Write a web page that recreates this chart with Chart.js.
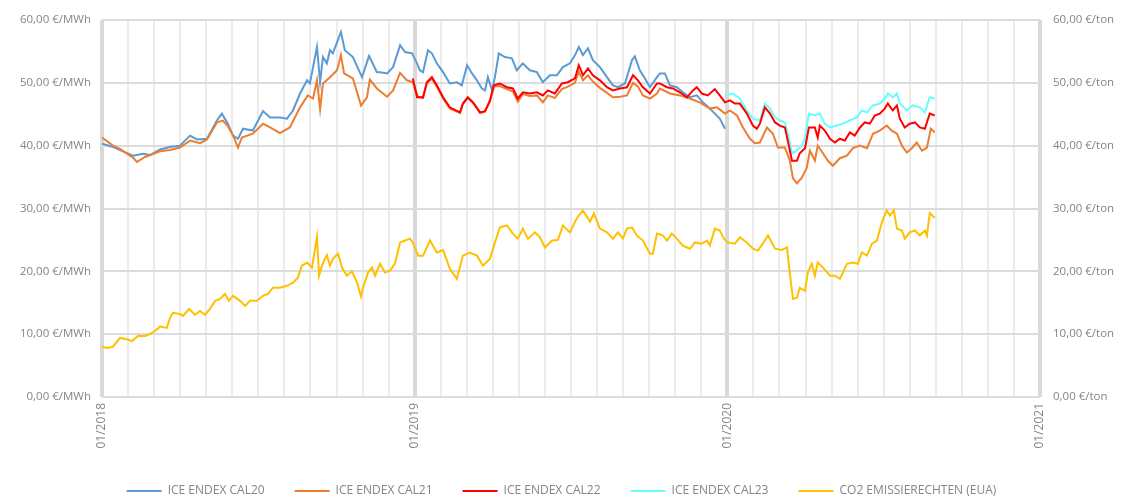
<!DOCTYPE html>
<html lang="de">
<head>
    <meta charset="UTF-8">
    <title>Energiepreise ICE ENDEX / CO2</title>
    <script src="https://cdn.jsdelivr.net/npm/chart.js"></script>
    <style>
        html, body { margin: 0; padding: 0; background: #fff; }
        #wrap { width: 1123px; height: 501px; }
    </style>
</head>
<body>
<div id="wrap"><canvas id="priceChart"></canvas></div>
<script>
// x = months since 01/2018 (decimal)
const cal20Months = [0.0,0.42,0.69,1.19,1.57,1.84,2.23,2.61,2.99,3.38,3.65,4.03,4.41,4.60,4.83,5.03,5.22,5.41,5.79,6.18,6.45,6.83,7.10,7.33,7.60,7.87,7.98,8.25,8.37,8.48,8.63,8.75,8.86,9.17,9.32,9.63,9.98,10.25,10.55,10.67,10.94,11.17,11.44,11.63,11.90,12.09,12.20,12.32,12.51,12.66,12.85,13.09,13.35,13.62,13.81,14.01,14.20,14.39,14.58,14.70,14.81,14.97,15.08,15.23,15.46,15.73,15.92,16.15,16.42,16.69,16.92,17.19,17.46,17.69,17.96,18.15,18.30,18.46,18.65,18.84,19.11,19.38,19.61,19.80,20.07,20.34,20.45,20.64,20.84,21.03,21.30,21.41,21.60,21.80,22.06,22.29,22.56,22.83,23.06,23.33,23.52,23.71,23.91];
const cal20Values = [40.3,39.8,39.3,38.4,38.7,38.5,39.4,39.8,40.0,41.6,41.0,41.1,44.0,45.1,43.5,41.6,41.1,42.7,42.4,45.5,44.5,44.5,44.3,45.6,48.3,50.4,49.9,55.7,50.1,54.1,53.1,55.2,54.7,58.1,55.2,54.1,50.9,54.3,51.7,51.7,51.5,52.5,56.0,54.9,54.7,53.1,52.0,51.7,55.2,54.7,53.1,51.7,49.9,50.1,49.6,52.8,51.5,50.4,49.1,48.8,50.9,48.8,50.9,54.7,54.1,53.9,52.0,53.1,52.0,51.7,50.1,51.2,51.2,52.5,53.1,54.4,55.7,54.4,55.5,53.6,52.5,50.9,49.6,49.3,49.9,53.6,54.2,52.0,50.7,49.3,50.9,51.5,51.5,49.6,49.3,48.5,47.7,48.0,46.9,45.9,45.1,44.3,42.7];

const cal21Months = [0.0,0.42,0.69,1.19,1.34,1.65,2.23,2.61,2.99,3.38,3.76,4.03,4.41,4.64,4.83,5.03,5.22,5.37,5.79,6.18,6.45,6.83,7.21,7.60,7.90,8.10,8.25,8.37,8.48,8.75,9.02,9.17,9.29,9.63,9.94,10.17,10.28,10.55,10.94,11.17,11.44,11.70,11.93,12.13,12.32,12.47,12.66,12.85,13.09,13.35,13.74,13.85,14.04,14.24,14.51,14.70,14.89,15.04,15.27,15.54,15.77,15.96,16.15,16.42,16.69,16.92,17.11,17.38,17.65,17.88,18.15,18.30,18.46,18.65,18.84,19.11,19.38,19.61,19.88,20.15,20.38,20.57,20.76,21.03,21.30,21.41,21.80,22.18,22.56,22.94,23.33,23.60,23.91,24.10,24.37,24.60,24.87,25.06,25.25,25.52,25.75,25.94,26.21,26.40,26.52,26.67,26.86,27.05,27.17,27.36,27.47,27.67,27.86,28.05,28.32,28.59,28.82,29.09,29.36,29.59,29.85,30.12,30.31,30.51,30.70,30.89,31.08,31.27,31.47,31.66,31.81,31.96];
const cal21Values = [41.3,40.0,39.5,38.1,37.4,38.2,39.1,39.3,39.7,40.8,40.4,41.0,43.7,44.0,43.1,41.6,39.7,41.3,41.9,43.5,42.9,42.0,42.9,46.1,48.0,47.5,50.4,45.8,49.9,50.9,52.0,54.4,51.5,50.7,46.4,47.7,50.5,49.1,47.8,48.8,51.6,50.4,50.1,47.8,47.6,50.0,50.6,49.4,47.5,45.9,45.2,46.6,47.6,46.8,45.2,45.4,47.0,49.4,49.5,49.0,48.6,47.0,48.2,47.9,48.0,46.9,48.0,47.6,49.0,49.4,50.0,51.8,50.4,51.2,50.2,49.2,48.4,47.7,47.8,48.0,50.0,49.4,48.0,47.5,48.3,49.1,48.3,48.0,47.5,46.9,45.9,46.1,45.1,45.6,44.8,42.9,41.1,40.4,40.5,42.9,41.9,39.7,39.7,37.6,34.8,34.0,34.9,36.5,39.2,37.6,40.0,38.8,37.6,36.8,38.0,38.4,39.6,40.0,39.6,41.9,42.4,43.2,42.4,41.9,40.0,38.9,39.6,40.5,39.2,39.7,42.7,42.1];

const cal22Months = [11.93,12.09,12.32,12.47,12.66,12.85,13.09,13.35,13.74,13.85,14.04,14.24,14.51,14.70,14.89,15.04,15.27,15.54,15.77,15.96,16.15,16.42,16.69,16.92,17.11,17.38,17.65,17.88,18.15,18.30,18.46,18.65,18.84,19.11,19.38,19.61,19.88,20.15,20.38,20.57,20.76,21.03,21.30,21.41,21.68,21.91,22.18,22.45,22.68,22.83,23.02,23.25,23.52,23.71,23.91,24.10,24.29,24.48,24.75,24.98,25.13,25.25,25.44,25.64,25.83,26.02,26.21,26.32,26.48,26.67,26.78,26.98,27.13,27.36,27.47,27.55,27.74,27.94,28.13,28.32,28.51,28.70,28.89,29.09,29.28,29.47,29.66,29.85,30.04,30.16,30.35,30.51,30.62,30.81,31.00,31.20,31.39,31.58,31.77,31.96];
const cal22Values = [50.7,47.7,47.7,50.1,50.9,49.6,47.7,46.1,45.3,46.7,47.7,46.9,45.3,45.5,47.2,49.6,49.9,49.3,49.1,47.5,48.5,48.3,48.5,48.0,48.8,48.3,49.9,50.1,50.7,52.8,51.2,52.3,51.2,50.4,49.3,48.8,49.1,49.3,51.2,50.4,49.3,48.3,49.9,49.9,49.3,49.1,48.5,47.7,48.8,49.3,48.3,48.0,49.0,48.0,46.9,47.2,46.7,46.7,45.1,43.2,42.7,43.5,46.1,45.1,43.7,43.2,42.9,40.8,37.6,37.6,38.8,39.6,42.9,42.9,41.3,43.2,42.4,41.1,40.5,41.1,40.8,42.1,41.6,42.9,43.7,43.5,44.8,45.1,45.9,46.7,45.6,46.4,44.3,42.9,43.5,43.7,42.9,42.7,45.1,44.8];

const cal23Months = [23.91,24.21,24.48,24.75,24.98,25.25,25.44,25.64,25.83,26.02,26.21,26.32,26.48,26.67,26.86,26.98,27.13,27.36,27.55,27.74,27.94,28.20,28.43,28.70,28.97,29.16,29.36,29.59,29.85,30.04,30.16,30.35,30.51,30.62,30.89,31.12,31.39,31.58,31.77,31.96];
const cal23Values = [48.0,48.3,47.5,45.6,44.3,44.0,46.7,45.9,44.5,44.0,43.7,41.9,38.8,39.2,40.0,41.3,45.1,44.8,45.1,43.5,42.9,43.2,43.5,44.0,44.5,45.6,45.3,46.4,46.7,47.5,48.3,47.7,48.3,46.7,45.6,46.4,46.1,45.3,47.7,47.5];

const co2Months = [0.00,0.19,0.42,0.69,0.96,1.15,1.38,1.65,1.84,2.03,2.23,2.49,2.61,2.72,2.99,3.11,3.34,3.57,3.76,3.95,4.14,4.34,4.53,4.72,4.87,5.03,5.30,5.49,5.68,5.95,6.18,6.37,6.56,6.83,7.10,7.33,7.52,7.67,7.87,8.06,8.25,8.33,8.44,8.63,8.75,8.86,9.06,9.21,9.40,9.59,9.79,9.94,10.02,10.21,10.36,10.48,10.67,10.86,11.05,11.24,11.44,11.63,11.82,11.93,12.13,12.32,12.59,12.85,13.09,13.35,13.62,13.85,14.12,14.39,14.62,14.89,15.08,15.27,15.54,15.77,15.96,16.15,16.35,16.62,16.81,17.00,17.27,17.50,17.69,17.96,18.23,18.46,18.73,18.88,19.11,19.38,19.61,19.80,19.99,20.15,20.34,20.53,20.76,21.03,21.14,21.30,21.53,21.68,21.87,22.06,22.29,22.56,22.76,23.02,23.22,23.33,23.52,23.71,23.87,24.02,24.29,24.48,24.75,24.98,25.17,25.36,25.56,25.83,26.09,26.29,26.40,26.52,26.67,26.78,26.98,27.09,27.24,27.36,27.47,27.67,27.94,28.13,28.32,28.59,28.82,29.01,29.16,29.36,29.55,29.74,29.93,30.12,30.24,30.39,30.51,30.70,30.81,31.00,31.20,31.39,31.58,31.66,31.77,31.96];
const co2Values = [8.0,7.8,8.0,9.4,9.2,8.9,9.7,9.7,10.0,10.5,11.2,11.0,12.6,13.4,13.2,12.9,14.0,13.1,13.7,13.1,14.0,15.3,15.6,16.4,15.3,16.1,15.3,14.5,15.3,15.3,16.1,16.4,17.4,17.4,17.7,18.2,19.0,20.9,21.4,20.6,25.5,19.3,20.9,22.6,20.9,22.0,22.8,20.6,19.3,20.0,18.2,16.0,17.4,19.8,20.6,19.3,21.2,19.8,20.1,21.2,24.6,24.9,25.2,24.6,22.5,22.5,24.9,23.0,23.4,20.4,18.8,22.5,23.0,22.5,20.9,22.0,24.6,27.0,27.3,26.0,25.2,26.8,25.2,26.2,25.4,23.8,24.9,25.0,27.3,26.2,28.5,29.7,27.9,29.2,26.8,26.2,25.2,26.2,25.2,26.8,27.0,25.7,24.9,22.8,22.8,26.0,25.7,24.9,26.0,25.2,24.1,23.6,24.6,24.4,24.9,24.1,26.8,26.5,25.2,24.6,24.4,25.4,24.6,23.6,23.3,24.4,25.7,23.6,23.4,23.8,19.6,15.6,15.8,17.4,16.9,19.8,21.2,19.3,21.4,20.6,19.3,19.3,18.8,21.2,21.4,21.2,23.0,22.5,24.4,24.9,27.8,29.7,28.9,29.7,26.8,26.5,25.2,26.2,26.5,25.7,26.5,25.7,29.3,28.5];

const seriesLabels = ["ICE ENDEX CAL20", "ICE ENDEX CAL21", "ICE ENDEX CAL22", "ICE ENDEX CAL23", "CO2 EMISSIERECHTEN (EUA)"];
const yearLabels = ["01/2018", "01/2019", "01/2020", "01/2021"];

const textColor = "#858585";
const fontFamily = "'Open Sans', sans-serif";

function points(xs, ys) {
    return xs.map((x, i) => ({ x: x, y: ys[i] }));
}

function lineSet(label, xs, ys, color, axis, order) {
    return {
        label: label,
        data: points(xs, ys),
        borderColor: color,
        backgroundColor: color,
        borderWidth: 2,
        pointRadius: 0,
        tension: 0,
        fill: false,
        yAxisID: axis,
        order: order
    };
}

function euro(v, unit) {
    return v.toFixed(2).replace(".", ",") + " €/" + unit;
}

const ctx = document.getElementById("priceChart").getContext("2d");
new Chart(ctx, {
    type: "line",
    data: {
        datasets: [
            lineSet(seriesLabels[0], cal20Months, cal20Values, "#5b9bd5", "y", 3),
            lineSet(seriesLabels[1], cal21Months, cal21Values, "#ed7d31", "y", 1),
            lineSet(seriesLabels[2], cal22Months, cal22Values, "#ff0000", "y", 0),
            lineSet(seriesLabels[3], cal23Months, cal23Values, "#66ffff", "y", 2),
            lineSet(seriesLabels[4], co2Months, co2Values, "#ffc000", "y1", 4)
        ]
    },
    options: {
        responsive: true,
        maintainAspectRatio: false,
        animation: false,
        layout: { padding: { top: 20, bottom: -6, left: 0, right: 0 } },
        scales: {
            x: {
                type: "linear",
                min: 0,
                max: 36,
                border: { display: false },
                grid: {
                    drawTicks: false,
                    color: c => (c.tick && c.tick.value % 12 === 0) ? "#d9d9d9" : "#ececec",
                    lineWidth: c => (c.tick && c.tick.value % 12 === 0) ? 4 : 2
                },
                ticks: {
                    stepSize: 1,
                    autoSkip: false,
                    minRotation: 90,
                    maxRotation: 90,
                    padding: 6,
                    color: textColor,
                    font: { family: fontFamily, size: 12 },
                    callback: v => (v % 12 === 0) ? yearLabels[v / 12] : ""
                },
                afterFit: s => { s.height = 58; }
            },
            y: {
                position: "left",
                min: 0,
                max: 60,
                border: { display: false },
                grid: { drawTicks: false, color: "#dcdcdc", lineWidth: 2 },
                ticks: {
                    stepSize: 10,
                    padding: 11,
                    color: textColor,
                    font: { family: fontFamily, size: 11.5 },
                    callback: v => euro(v, "MWh")
                },
                afterFit: s => { s.width = 102; }
            },
            y1: {
                position: "right",
                min: 0,
                max: 60,
                border: { display: false },
                grid: { display: false, drawTicks: false },
                ticks: {
                    stepSize: 10,
                    padding: 13,
                    color: textColor,
                    font: { family: fontFamily, size: 11.5 },
                    callback: v => euro(v, "ton")
                },
                afterFit: s => { s.width = 83; }
            }
        },
        plugins: {
            tooltip: { enabled: false },
            legend: {
                position: "bottom",
                labels: {
                    boxWidth: 35,
                    boxHeight: 2,
                    padding: 30,
                    color: textColor,
                    font: { family: fontFamily, size: 12 },
                    generateLabels: chart => chart.data.datasets.map((ds, i) => ({
                        text: ds.label,
                        fillStyle: ds.borderColor,
                        strokeStyle: ds.borderColor,
                        lineWidth: 0,
                        hidden: false,
                        fontColor: textColor,
                        datasetIndex: i
                    }))
                }
            }
        }
    }
});
</script>
</body>
</html>
